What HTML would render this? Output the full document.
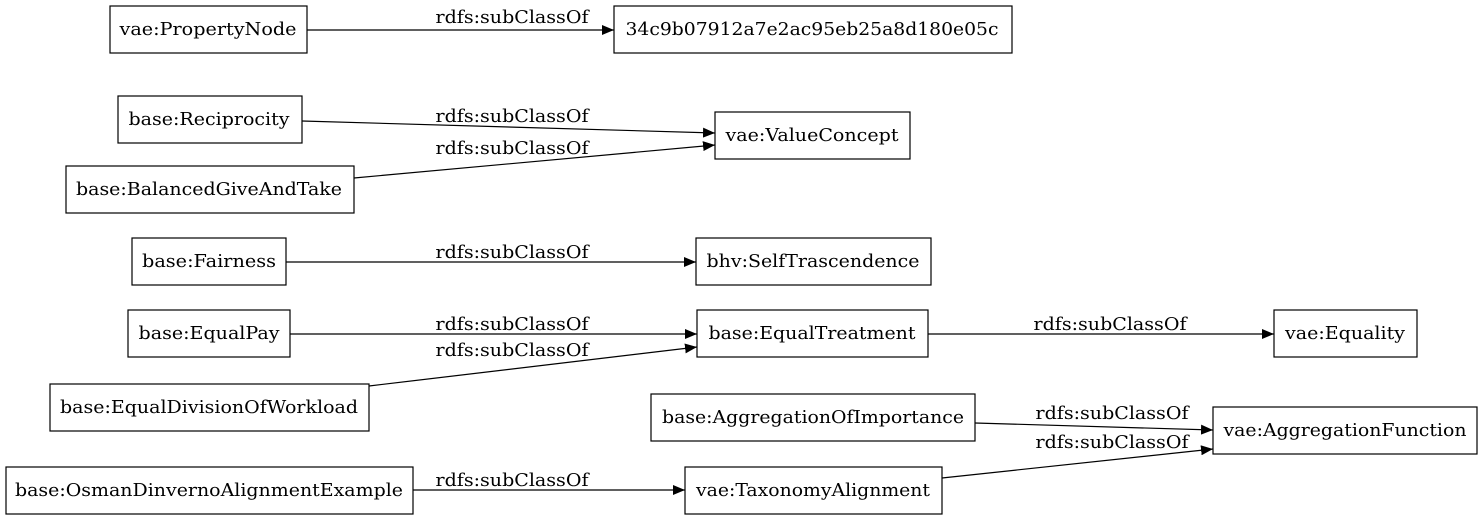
<!DOCTYPE html>
<html><head><meta charset="utf-8"><style>
html,body{margin:0;padding:0;background:#fff;}
svg{display:block;}
text{font-family:"DejaVu Serif","Liberation Serif",serif;font-size:18px;fill:#000;}
</style></head><body>
<svg width="1483" height="520" viewBox="0 0 1483 520" xmlns="http://www.w3.org/2000/svg">
<defs><marker id="a" markerWidth="12" markerHeight="10" refX="12" refY="5" orient="auto" markerUnits="userSpaceOnUse"><path d="M0,0 L12,5 L0,10 Z" fill="#000"/></marker></defs>
<g fill="none" stroke="#000" stroke-width="1.2">
<rect x="110" y="6" width="197" height="47"/>
<rect x="614" y="6" width="398" height="47"/>
<rect x="118" y="96" width="184" height="47"/>
<rect x="715" y="112" width="195" height="47"/>
<rect x="66" y="166" width="288" height="47"/>
<rect x="132" y="238" width="154" height="47"/>
<rect x="696" y="238" width="235" height="47"/>
<rect x="128" y="310" width="162" height="47"/>
<rect x="697" y="310" width="231" height="47"/>
<rect x="1274" y="310" width="143" height="47"/>
<rect x="50" y="384" width="319" height="47"/>
<rect x="651" y="394" width="324" height="47"/>
<rect x="1213" y="407" width="264" height="47"/>
<rect x="6" y="467" width="407" height="47"/>
<rect x="685" y="467" width="257" height="47"/>
<g marker-end="url(#a)">
<line x1="307" y1="30" x2="614" y2="30"/>
<line x1="302" y1="121" x2="715" y2="133"/>
<line x1="354" y1="178" x2="715" y2="145"/>
<line x1="286" y1="262" x2="696" y2="262"/>
<line x1="290" y1="334" x2="697" y2="334"/>
<line x1="928" y1="334" x2="1274" y2="334"/>
<line x1="369" y1="386" x2="697" y2="347"/>
<line x1="975" y1="423" x2="1213" y2="430"/>
<line x1="942" y1="478" x2="1213" y2="449"/>
<line x1="413" y1="490" x2="685" y2="490"/>
</g></g>
<g text-anchor="middle" lengthAdjust="spacingAndGlyphs">
<text x="208" y="35" textLength="177" lengthAdjust="spacingAndGlyphs">vae:PropertyNode</text>
<text x="812" y="35" textLength="373" lengthAdjust="spacingAndGlyphs">34c9b07912a7e2ac95eb25a8d180e05c</text>
<text x="209" y="125" textLength="161" lengthAdjust="spacingAndGlyphs">base:Reciprocity</text>
<text x="812" y="141" textLength="173" lengthAdjust="spacingAndGlyphs">vae:ValueConcept</text>
<text x="209" y="195" textLength="266" lengthAdjust="spacingAndGlyphs">base:BalancedGiveAndTake</text>
<text x="209" y="267" textLength="134" lengthAdjust="spacingAndGlyphs">base:Fairness</text>
<text x="813" y="267" textLength="213" lengthAdjust="spacingAndGlyphs">bhv:SelfTrascendence</text>
<text x="209" y="339" textLength="141" lengthAdjust="spacingAndGlyphs">base:EqualPay</text>
<text x="812" y="339" textLength="207" lengthAdjust="spacingAndGlyphs">base:EqualTreatment</text>
<text x="1345" y="339" textLength="120" lengthAdjust="spacingAndGlyphs">vae:Equality</text>
<text x="209" y="413" textLength="298" lengthAdjust="spacingAndGlyphs">base:EqualDivisionOfWorkload</text>
<text x="813" y="423" textLength="302" lengthAdjust="spacingAndGlyphs">base:AggregationOfImportance</text>
<text x="1345" y="436" textLength="243" lengthAdjust="spacingAndGlyphs">vae:AggregationFunction</text>
<text x="209" y="496" textLength="388" lengthAdjust="spacingAndGlyphs">base:OsmanDinvernoAlignmentExample</text>
<text x="813" y="496" textLength="234" lengthAdjust="spacingAndGlyphs">vae:TaxonomyAlignment</text>
<text x="512" y="23" textLength="153" lengthAdjust="spacingAndGlyphs">rdfs:subClassOf</text>
<text x="512" y="122" textLength="153" lengthAdjust="spacingAndGlyphs">rdfs:subClassOf</text>
<text x="512" y="154" textLength="153" lengthAdjust="spacingAndGlyphs">rdfs:subClassOf</text>
<text x="512" y="258" textLength="153" lengthAdjust="spacingAndGlyphs">rdfs:subClassOf</text>
<text x="512" y="330" textLength="153" lengthAdjust="spacingAndGlyphs">rdfs:subClassOf</text>
<text x="1110" y="330" textLength="153" lengthAdjust="spacingAndGlyphs">rdfs:subClassOf</text>
<text x="512" y="356" textLength="153" lengthAdjust="spacingAndGlyphs">rdfs:subClassOf</text>
<text x="1112" y="419" textLength="153" lengthAdjust="spacingAndGlyphs">rdfs:subClassOf</text>
<text x="1112" y="448" textLength="153" lengthAdjust="spacingAndGlyphs">rdfs:subClassOf</text>
<text x="512" y="486" textLength="153" lengthAdjust="spacingAndGlyphs">rdfs:subClassOf</text>
</g>
</svg>
</body></html>
